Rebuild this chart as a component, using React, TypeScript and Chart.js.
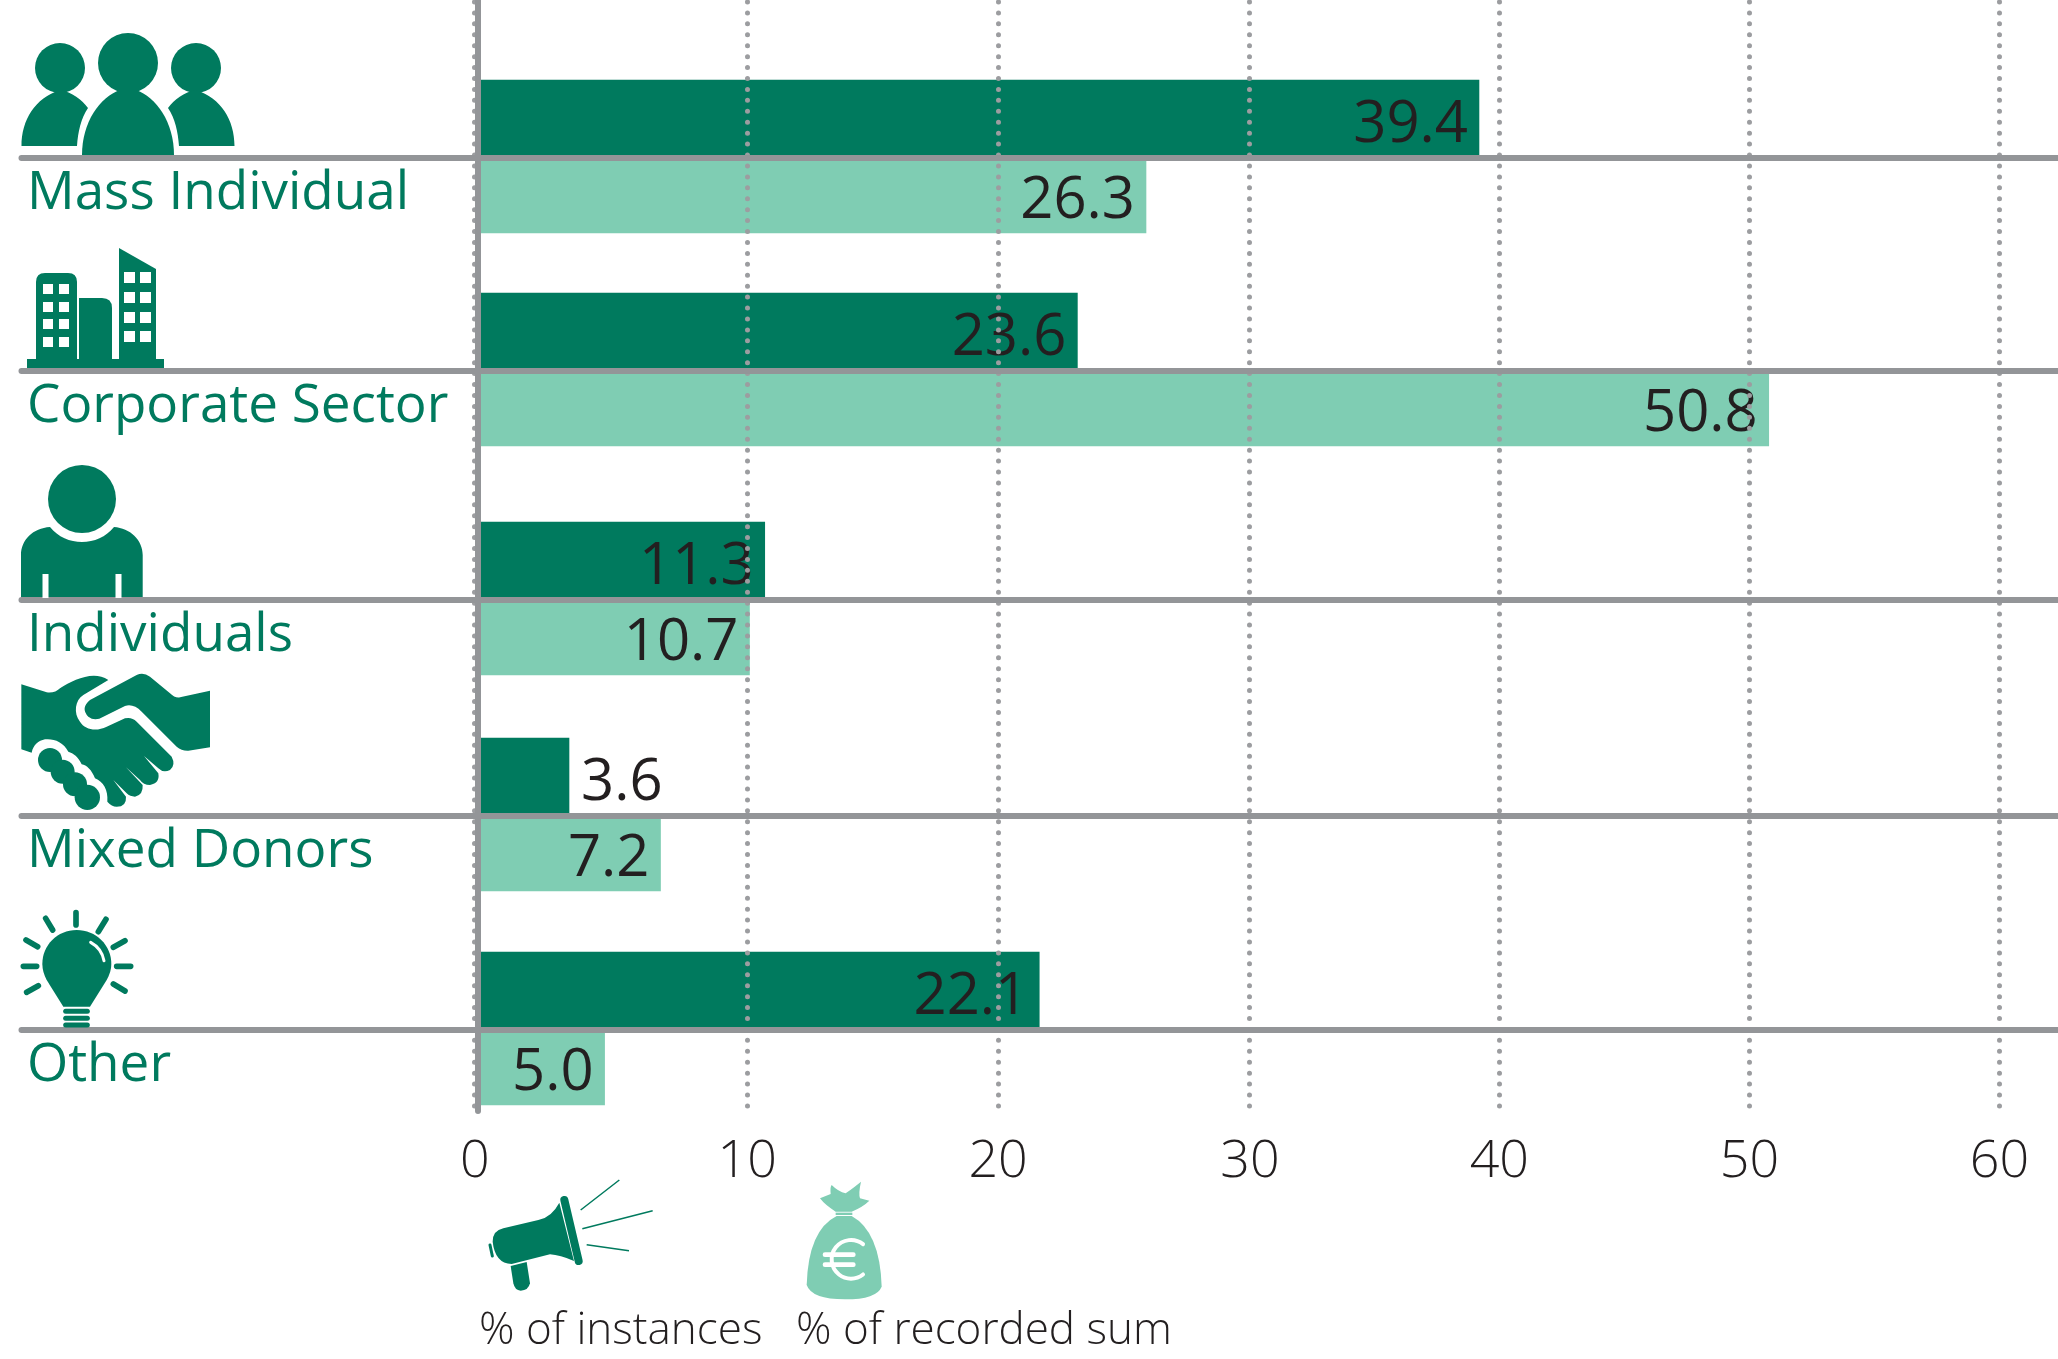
import React, { useEffect, useRef } from "react";
import { Chart, registerables, CategoryScale } from "chart.js";

const categories = ["Mass Individual", "Corporate Sector", "Individuals", "Mixed Donors", "Other"];
const instances = [39.4, 23.6, 11.3, 3.6, 22.1];
const recordedSum = [26.3, 50.8, 10.7, 7.2, 5.0];
const tickLabels = ["0", "10", "20", "30", "40", "50", "60"];

const DARK = "#007A5E";
const LIGHT = "#7FCDB3";
const GREY = "#939598";
const TEXT = "#231F20";

// The source graphic spaces its rows unevenly.
const ROW_PIXELS = [158, 371, 600, 816, 1030];
// The printed tick marks sit slightly off the bars' own scale.
const TICK_POSITIONS = [-0.1, 10.61, 20.48, 30.39, 40.2, 50.04, 59.88];

class RowScale extends CategoryScale {
  static id = "rowScale";
  static defaults = CategoryScale.defaults;
  getPixelForValue(value: any) {
    return ROW_PIXELS[Number(value)] ?? 0;
  }
  getPixelForTick(index: number) {
    return ROW_PIXELS[index] ?? 0;
  }
}

Chart.register(...registerables, RowScale as any);

type C = CanvasRenderingContext2D;

function fillPath(ctx: C, d: string, color: string) {
  ctx.fillStyle = color;
  ctx.fill(new Path2D(d));
}
function circle(ctx: C, x: number, y: number, r: number, color: string) {
  ctx.fillStyle = color;
  ctx.beginPath();
  ctx.arc(x, y, r, 0, Math.PI * 2);
  ctx.fill();
}
function stroke(ctx: C, d: string, color: string, width: number, cap: CanvasLineCap = "round") {
  ctx.strokeStyle = color;
  ctx.lineWidth = width;
  ctx.lineCap = cap;
  ctx.stroke(new Path2D(d));
}
function drawPeople(ctx: C) {
  circle(ctx, 60, 68, 25, DARK);
  circle(ctx, 196, 68, 25, DARK);
  circle(ctx, 128, 63, 30, DARK);
  fillPath(ctx, "M21.5,146 C21.5,120 35,98 60,90 C72,92 82,100 88,108 C81,118 78,132 77,146 Z", DARK);
  fillPath(ctx, "M234.5,146 C234.5,120 221,98 196,90 C184,92 174,100 168,108 C175,118 178,132 179,146 Z", DARK);
  fillPath(ctx, "M82,155 C82,122 100,97 120,90 L136,90 C156,97 174,122 174,155 Z", DARK);
}
function drawBuildings(ctx: C) {
  fillPath(ctx, "M27,359 H164 V368 H27 Z", DARK);
  fillPath(ctx, "M36,362 V282 Q36,273 45,273 H68 Q77,273 77,282 V362 Z", DARK);
  fillPath(ctx, "M79,362 V298 H102 Q112,298 112,308 V362 Z", DARK);
  fillPath(ctx, "M119,362 V248 L156,269 V362 Z", DARK);
  ctx.fillStyle = "#fff";
  for (const y of [284, 302, 319, 337]) for (const x of [43, 59]) ctx.fillRect(x, y, 10, 10);
  for (const y of [272, 292, 312, 331]) for (const x of [124, 140]) ctx.fillRect(x, y, 11, 11);
}
function drawPerson(ctx: C) {
  circle(ctx, 82, 499, 34, DARK);
  fillPath(ctx, "M21,597 V555 C21,540 33,528 50,527 C58,537 70,542 82,542 C94,542 106,537 114,527 C130,528 142.7,540 142.7,555 V597 Z", DARK);
  ctx.fillStyle = "#fff";
  ctx.fillRect(42.5, 574, 6, 24);
  ctx.fillRect(115.5, 574, 6, 24);
}
function drawHandshake(ctx: C) {
  ctx.save();
  ctx.translate(0, 450);
  ctx.scale(1 / 3, 1 / 3);
  fillPath(ctx, "M64,703 L140,727 Q165,730 180,715 C220,690 280,660 325,690 L250,735 C225,750 220,790 240,815 C255,840 290,845 320,830 L375,805 Q395,800 410,815 L515,920 Q528,945 510,960 Q490,970 475,955 L432,918 L475,970 Q480,1000 450,1005 Q430,1005 420,990 L378,952 L428,1005 Q430,1035 405,1040 Q390,1040 380,1030 L340,990 L378,1040 Q380,1070 350,1070 Q335,1070 322,1055 C325,1020 310,995 285,985 C275,960 260,945 245,943 C235,920 220,910 205,905 C190,875 160,865 135,868 C115,872 100,885 95,908 L64,898 Z", DARK);
  fillPath(ctx, "M270,750 L410,675 Q430,665 450,680 L510,730 Q525,745 540,742 L630,722 L630,892 L565,902 Q545,903 530,890 L425,785 Q400,760 375,768 L310,800 Q285,815 265,800 Q240,775 270,750 Z", DARK);
  circle(ctx, 150, 930, 36, DARK);
  circle(ctx, 188, 965, 36, DARK);
  circle(ctx, 225, 1003, 36, DARK);
  circle(ctx, 262, 1042, 38, DARK);
  ctx.restore();
}
function drawBulb(ctx: C) {
  ctx.save();
  ctx.translate(0, 890);
  ctx.scale(1 / 3, 1 / 3);
  fillPath(ctx, "M190,350 L140,270 Q127,245 127,222 C127,165 172,120 230,120 C288,120 334,165 334,222 Q334,245 320,270 L270,350 Z", DARK);
  stroke(ctx, "M272,157 Q305,175 312,212", "#fff", 9);
  stroke(ctx, "M197,364 H262", DARK, 15);
  stroke(ctx, "M197,385 H262", DARK, 15);
  stroke(ctx, "M197,405 H262", DARK, 15);
  stroke(
    ctx,
    "M228,68 L228,105 M137,85 L158,120 M78,150 L113,170 M70,229 L110,229 M80,307 L115,287 M318,88 L295,125 M375,152 L340,172 M350,229 L392,229 M340,282 L375,303",
    DARK,
    17
  );
  ctx.restore();
}
function drawMegaphone(ctx: C) {
  ctx.save();
  ctx.translate(470, 1160);
  ctx.scale(1 / 3, 1 / 3);
  fillPath(ctx, "M68,245 Q68,212 100,205 L205,180 Q245,172 268,128 L312,303 Q270,285 240,283 L125,312 Q75,310 68,245 Z", DARK);
  stroke(ctx, "M283,120 L326,303", DARK, 24);
  stroke(ctx, "M60,255 L67,288", DARK, 9);
  fillPath(ctx, "M122,318 L170,306 L180,370 Q175,392 152,392 Q135,392 130,370 Z", DARK);
  stroke(ctx, "M332,150 L448,60 M337,206 L548,152 M350,254 L477,272", DARK, 4.5, "butt");
  ctx.restore();
}
function drawBag(ctx: C) {
  ctx.save();
  ctx.translate(780, 1170);
  ctx.scale(1 / 3, 1 / 3);
  fillPath(ctx, "M120,85 L152,72 Q150,50 155,45 Q175,65 197,70 Q225,50 243,35 Q235,70 240,85 L268,92 Q250,110 215,125 L167,125 Q135,105 120,85 Z", LIGHT);
  ctx.fillStyle = LIGHT;
  ctx.fillRect(167, 128, 50, 7);
  fillPath(ctx, "M170,138 L215,138 Q300,185 305,350 Q290,388 195,388 Q95,388 80,345 Q85,180 170,138 Z", LIGHT);
  ctx.strokeStyle = "#fff";
  ctx.lineWidth = 12;
  ctx.lineCap = "round";
  ctx.beginPath();
  ctx.arc(213, 268, 58, -0.9, 0.9, true);
  ctx.stroke();
  stroke(ctx, "M135,254 L220,254 M135,284 L220,284", "#fff", 14);
  ctx.restore();
}

const decorations = {
  id: "decorations",
  beforeDraw(chart: Chart) {
    chart.ctx.lineCap = "round";
  },
  afterDraw(chart: Chart) {
    const ctx = chart.ctx;
    ctx.save();
    drawPeople(ctx);
    drawBuildings(ctx);
    drawPerson(ctx);
    drawHandshake(ctx);
    drawBulb(ctx);
    drawMegaphone(ctx);
    drawBag(ctx);
    ctx.textBaseline = "alphabetic";
    ctx.textAlign = "left";
    ctx.fillStyle = TEXT;
    ctx.font = '300 44px "Open Sans"';
    ctx.fillText("% of instances", 479, 1344);
    ctx.fillText("% of recorded sum", 796, 1344);
    ctx.restore();
  },
};

const valueLabels = {
  id: "valueLabels",
  afterDatasetsDraw(chart: Chart) {
    const ctx = chart.ctx;
    ctx.save();
    ctx.fillStyle = TEXT;
    ctx.font = '400 58px "Open Sans"';
    ctx.textBaseline = "middle";
    chart.data.datasets.forEach((ds: any, di: number) => {
      chart.getDatasetMeta(di).data.forEach((el: any, i: number) => {
        const v = ds.data[i] as number;
        const outside = v < 4;
        ctx.textAlign = outside ? "left" : "right";
        ctx.fillText(v.toFixed(1), outside ? el.x + 12 : el.x - 11, el.y + 6);
      });
    });
    ctx.restore();
  },
};

export default function App() {
  const ref = useRef<HTMLCanvasElement>(null);
  useEffect(() => {
    document.body.style.margin = "0";
    const chart = new Chart(ref.current!, {
      type: "bar",
      data: {
        labels: categories,
        datasets: [
          { label: "% of instances", data: instances, backgroundColor: DARK, barThickness: 78 },
          { label: "% of recorded sum", data: recordedSum, backgroundColor: LIGHT, barThickness: 75 },
        ],
      },
      options: {
        indexAxis: "y",
        animation: false,
        responsive: false,
        layout: { padding: { left: 27, top: 2, right: 0, bottom: 0 } },
        plugins: { legend: { display: false }, tooltip: { enabled: false } },
        scales: {
          x: {
            type: "linear",
            min: 0,
            max: 62.18,
            afterBuildTicks: (axis: any) => {
              axis.ticks = TICK_POSITIONS.map((value) => ({ value }));
            },
            afterFit: (axis: any) => {
              axis.height = 251;
              axis.paddingLeft = 0;
              axis.paddingRight = 0;
            },
            grid: { color: "#9C9DA0", lineWidth: 5, drawTicks: false, z: 1 },
            border: { display: false, dash: [0, 10.93] },
            ticks: {
              autoSkip: false,
              maxRotation: 0,
              padding: 23,
              color: TEXT,
              font: { family: '"Open Sans"', size: 52, weight: "300" },
              callback: (_v: any, i: number) => tickLabels[i],
            },
          },
          y: {
            type: "rowScale" as any,
            afterFit: (axis: any) => {
              axis.width = 450.5;
              axis.paddingTop = 0;
              axis.paddingBottom = 0;
            },
            grid: { offset: false, color: GREY, lineWidth: 6, tickLength: 456, z: 1 },
            border: { display: true, color: GREY, width: 6, z: 2 } as any,
            ticks: {
              crossAlign: "far",
              labelOffset: 36,
              color: DARK,
              font: { family: '"Open Sans"', size: 53 },
              autoSkip: false,
            },
          },
        },
      },
      plugins: [decorations, valueLabels],
    } as any);
    return () => chart.destroy();
  }, []);
  return <canvas ref={ref} width={2058} height={1359} style={{ display: "block" }} />;
}
